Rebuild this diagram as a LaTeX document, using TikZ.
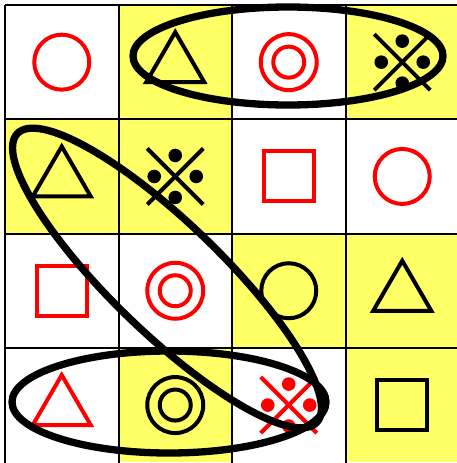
\documentclass[tikz,border=0pt]{standalone}
\definecolor{cellyellow}{RGB}{255,255,102}
\definecolor{symred}{RGB}{255,0,0}
\tikzset{
  x=1pt, y=-1pt,
  gridline/.style={line width=2pt, black},
  ell/.style={line width=7.3pt, black},
  symline/.style={line width=4pt},
  pcirc/.pic={\draw[symline] (0,0) circle[radius=27.5pt];},
  pdcirc/.pic={\draw[symline] (0,0) circle[radius=28pt]; \draw[symline] (0,0) circle[radius=15.5pt];},
  ptri/.pic={\draw[symline, line join=miter] (0,-30) -- (29,20) -- (-29,20) -- cycle;},
  psq/.pic={\draw[symline] (-25,-25) rectangle (25,25);},
  pcross/.pic={\draw[symline] (-28,-28) -- (28,28); \draw[symline] (28,-28) -- (-28,28);
     \fill (0,-21) circle[radius=6.8pt]; \fill (0,21) circle[radius=6.8pt];
     \fill (-21,0) circle[radius=6.8pt]; \fill (21,0) circle[radius=6.8pt];}
}
\begin{document}
\begin{tikzpicture}
\useasboundingbox (0,0) rectangle (456,463);
\fill[white] (0,0) rectangle (456,463);
% yellow cells: (col,row)
\foreach \c/\r in {2/1,4/1,1/2,2/2,3/3,4/3,2/4,4/4}{
  \fill[cellyellow] ({5+113.5*(\c-1)},{5+114.3*(\r-1)}) rectangle ({5+113.5*\c},{5+114.3*\r});
}
% grid
\foreach \i in {0,...,4}{
  \draw[gridline] ({5+113.5*\i},5) -- ({5+113.5*\i},466);
}
\foreach \i in {0,...,3}{
  \draw[gridline] (5,{5+114.3*\i}) -- (459,{5+114.3*\i});
}
% symbols
\foreach \c/\r/\s/\col in {
  1/1/pcirc/symred, 2/1/ptri/black, 3/1/pdcirc/symred, 4/1/pcross/black,
  1/2/ptri/black, 2/2/pcross/black, 3/2/psq/symred, 4/2/pcirc/symred,
  1/3/psq/symred, 2/3/pdcirc/symred, 3/3/pcirc/black, 4/3/ptri/black,
  1/4/ptri/symred, 2/4/pdcirc/black, 3/4/pcross/symred, 4/4/psq/black}{
  \pic[color=\col] at ({5+113.5*(\c-0.5)},{5+114.3*(\r-0.5)}) {\s};
}
% ellipses
\coordinate (e1) at (288,56);
\coordinate (e2) at (167,278);
\coordinate (e3) at (169,402);
\draw[ell] (e1) ellipse[x radius=155pt, y radius=49pt];
\draw[ell] (e3) ellipse[x radius=157pt, y radius=51pt];
\begin{scope}[rotate around={-44:(e2)}]
  \draw[ell] (e2) ellipse[x radius=208pt, y radius=55pt];
\end{scope}
\end{tikzpicture}
\end{document}
